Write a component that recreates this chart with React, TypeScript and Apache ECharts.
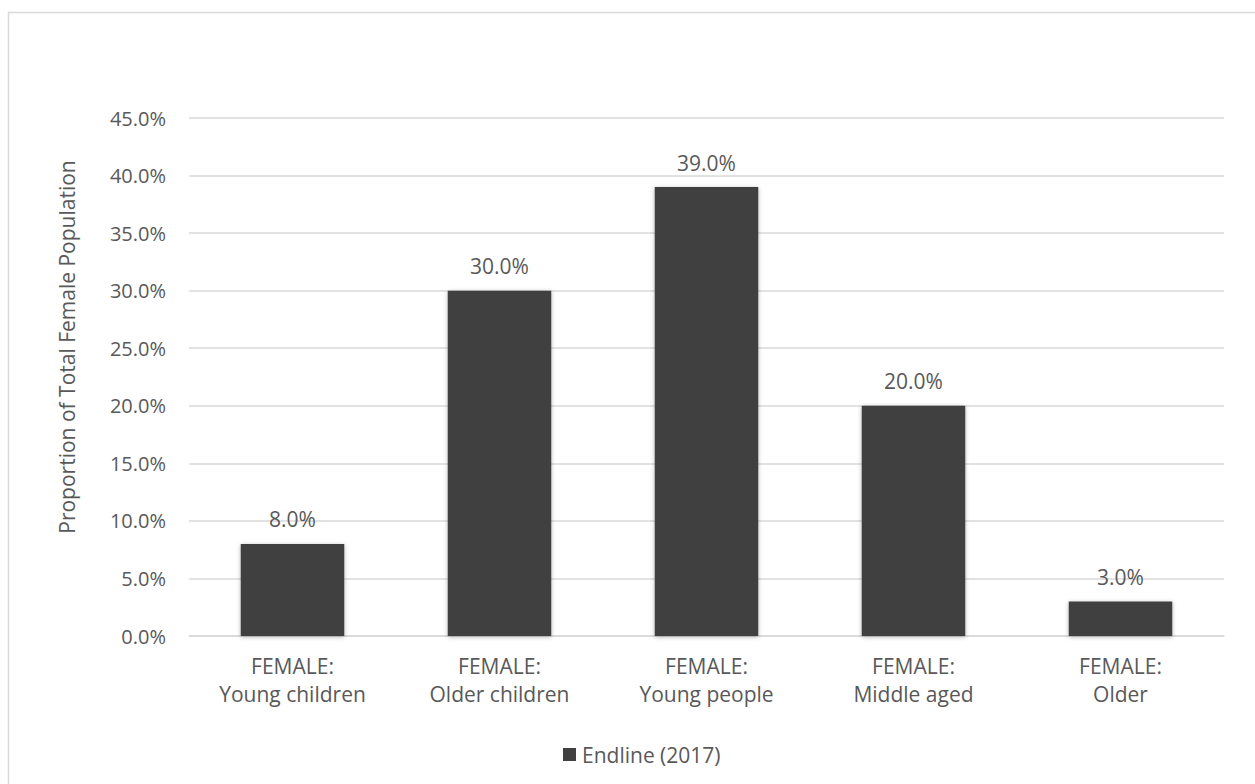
import React, { useEffect, useRef } from "react";
import * as echarts from "echarts";

const categories = [
  "FEMALE:\nYoung children",
  "FEMALE:\nOlder children",
  "FEMALE:\nYoung people",
  "FEMALE:\nMiddle aged",
  "FEMALE:\nOlder",
];
const endline2017 = [8.0, 30.0, 39.0, 20.0, 3.0];
const seriesName = "Endline (2017)";
const yAxisTitle = "Proportion of Total Female Population";

const FONT = "'Open Sans', 'Noto Sans', sans-serif";
const TEXT = "#595959";
const BAR = "#404040";
const GRID = "#d9d9d9";

export default function App() {
  const ref = useRef<HTMLDivElement>(null);

  useEffect(() => {
    if (!ref.current) return;
    const chart = echarts.init(ref.current, undefined, { renderer: "svg" });
    chart.setOption({
      animation: false,
      backgroundColor: "#ffffff",
      textStyle: { fontFamily: FONT },
      grid: { left: 189, right: 31, top: 118, bottom: 148, containLabel: false },
      legend: {
        data: [seriesName],
        left: 558,
        top: 739,
        itemWidth: 13,
        itemHeight: 13,
        itemGap: 4,
        icon: "rect",
        textStyle: { color: TEXT, fontSize: 21, fontFamily: FONT, padding: [0, 0, 0, 1] },
      },
      xAxis: {
        type: "category",
        data: categories,
        axisLine: { show: true, lineStyle: { color: GRID, width: 1.5 } },
        axisTick: { show: false },
        axisLabel: {
          color: TEXT,
          fontSize: 21,
          fontFamily: FONT,
          lineHeight: 28,
          margin: 16,
          interval: 0,
        },
      },
      yAxis: {
        type: "value",
        min: 0,
        max: 45,
        interval: 5,
        axisLine: { show: false },
        axisTick: { show: false },
        splitLine: { lineStyle: { color: GRID, width: 1.5 } },
        axisLabel: {
          color: TEXT,
          fontSize: 20,
          fontFamily: FONT,
          margin: 23,
          formatter: (v: number) => v.toFixed(1) + "%",
        },
      },
      graphic: [
        {
          type: "polyline",
          shape: { points: [[8.5, 790], [8.5, 12.5], [1260, 12.5]] },
          style: { stroke: GRID, fill: "none", lineWidth: 1.5 },
          silent: true,
        },
        {
          type: "text",
          x: 67,
          y: 347,
          rotation: Math.PI / 2,
          style: {
            text: yAxisTitle,
            fill: TEXT,
            font: `21px ${FONT}`,
            align: "center",
            verticalAlign: "middle",
          },
        },
      ],
      series: [
        {
          name: seriesName,
          type: "bar",
          data: endline2017,
          barWidth: "50%",
          itemStyle: {
            color: BAR,
            shadowBlur: 4,
            shadowColor: "rgba(0,0,0,0.3)",
            shadowOffsetX: 0,
            shadowOffsetY: 1,
          },
          label: {
            show: true,
            position: "top",
            distance: 14,
            color: TEXT,
            fontSize: 21,
            fontFamily: FONT,
            formatter: (p: any) => Number(p.value).toFixed(1) + "%",
          },
        },
      ],
    });
    return () => chart.dispose();
  }, []);

  return (
    <div
      ref={ref}
      style={{ position: "fixed", left: 0, top: 0, width: 1255, height: 784 }}
    />
  );
}
